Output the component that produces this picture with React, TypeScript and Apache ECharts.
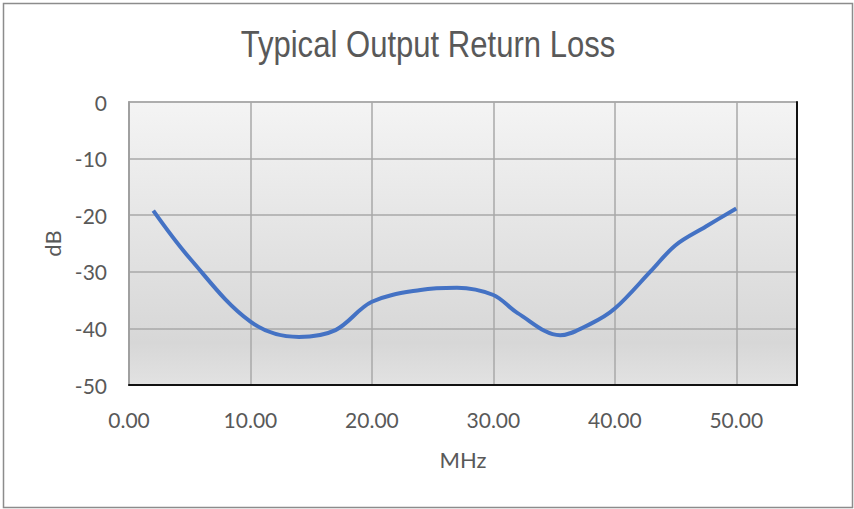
import React, { useEffect, useRef } from "react";
import * as echarts from "echarts";

const freqMHz = [2, 5, 10, 14, 17, 20, 24, 27, 30, 32, 35.5, 38, 40, 43, 45, 47.5, 50];
const returnLossDb = [-19.2, -27.6, -38.8, -41.5, -40.3, -35.3, -33.2, -32.8, -34.1, -37.3, -41.2, -39.2, -36.5, -29.8, -25.3, -22.0, -18.8];
const xTicks = [0, 10, 20, 30, 40, 50];
const yTicks = [0, -10, -20, -30, -40, -50];
const titleText = "Typical Output Return Loss";

const FONT = "Lato, 'Noto Sans', sans-serif";
const TITLE_FONT = "'Liberation Sans', Arial, sans-serif";
const TXT = "#595959";

export default function App() {
  const ref = useRef<HTMLDivElement>(null);
  useEffect(() => {
    if (!ref.current) return;
    const chart = echarts.init(ref.current, undefined, { renderer: "svg" });
    const data = freqMHz.map((f, i) => [f, returnLossDb[i]]);
    chart.setOption({
      animation: false,
      backgroundColor: "#ffffff",
      graphic: [
        {
          type: "rect",
          shape: { x: 3.5, y: 3.5, width: 849, height: 504 },
          style: { fill: "none", stroke: "#8c8c8c", lineWidth: 1.5 },
          silent: true,
          z: 100,
        },
        {
          type: "text",
          x: 428,
          y: 25,
          scaleX: 0.84,
          silent: true,
          style: {
            text: titleText,
            font: `normal 37px ${TITLE_FONT}`,
            fill: TXT,
            textAlign: "center",
            textVerticalAlign: "top",
          },
        },
      ],
      grid: {
        left: 129,
        right: 57,
        top: 102,
        bottom: 124,
        show: true,
        borderColor: "#a6a6a6",
        borderWidth: 1.5,
        backgroundColor: {
          type: "linear",
          x: 0, y: 0, x2: 0, y2: 1,
          colorStops: [
            { offset: 0, color: "#f4f4f4" },
            { offset: 0.85, color: "#d7d7d7" },
            { offset: 1, color: "#e2e2e2" },
          ],
        },
      },
      xAxis: {
        type: "value",
        min: xTicks[0],
        max: 55,
        interval: 10,
        name: "MHz",
        nameLocation: "middle",
        nameGap: 63,
        nameTextStyle: { fontFamily: FONT, fontSize: 22, color: TXT },
        axisLine: { show: true, onZero: false, lineStyle: { color: "#111", width: 2 } },
        axisTick: { show: false },
        splitLine: { show: true, lineStyle: { color: "#a8a8a8", width: 1.5 } },
        axisLabel: {
          showMaxLabel: false,
          margin: 24,
          fontFamily: FONT,
          fontSize: 21,
          color: TXT,
          formatter: (v: number) => (xTicks.includes(v) ? v.toFixed(2) : ""),
        },
      },
      yAxis: [
        {
          type: "value",
          min: yTicks[yTicks.length - 1],
          max: yTicks[0],
          interval: 10,
          name: "dB",
          nameLocation: "middle",
          nameGap: 65,
          nameTextStyle: { fontFamily: FONT, fontSize: 22, color: TXT },
          axisLine: { show: true, onZero: false, lineStyle: { color: "#a0a0a0", width: 2 } },
          axisTick: { show: false },
          splitLine: { show: true, lineStyle: { color: "#a8a8a8", width: 1.5 } },
          axisLabel: { margin: 22, fontFamily: FONT, fontSize: 21, color: TXT },
        },
        {
          type: "value",
          position: "right",
          min: -50,
          max: 0,
          interval: 10,
          axisLine: { show: true, onZero: false, lineStyle: { color: "#111", width: 2 } },
          axisTick: { show: false },
          axisLabel: { show: false },
          splitLine: { show: false },
        },
      ],
      series: [
        {
          type: "line",
          data,
          smooth: 0.35,
          showSymbol: false,
          lineStyle: { color: "#4472c4", width: 4 },
          yAxisIndex: 0,
        },
      ],
    });
    return () => chart.dispose();
  }, []);
  return (
    <div
      ref={ref}
      style={{ position: "fixed", left: 0, top: 0, width: 854, height: 509 }}
    />
  );
}
